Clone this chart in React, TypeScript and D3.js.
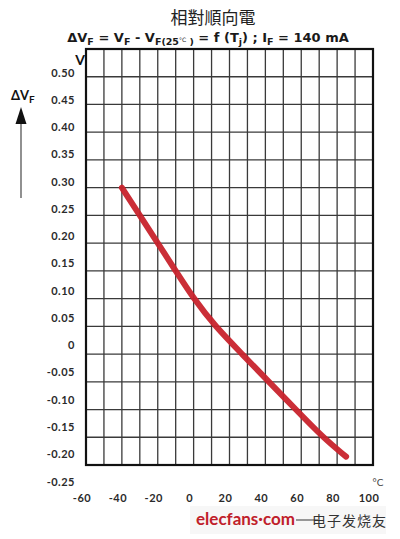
import * as d3 from 'd3';

// temperature (°C) and ΔVF (V)
const tempC = [-40, -30, -20, -10, 0, 12, 27, 42, 57, 72, 85];
const deltaVF = [0.3, 0.25, 0.2, 0.15, 0.1, 0.05, 0, -0.05, -0.1, -0.15, -0.185];

const xTickLabels = [-60, -40, -20, 0, 20, 40, 60, 80, 100];
const yTickLabels = [0.5, 0.45, 0.4, 0.35, 0.3, 0.25, 0.2, 0.15, 0.1, 0.05, 0, -0.05, -0.1, -0.15, -0.2, -0.25];
const xGrid = [-60, -50, -40, -30, -20, -10, 0, 10, 20, 30, 40, 50, 60, 70, 80, 90, 100];
const yGrid = [0.55, 0.5, 0.45, 0.4, 0.35, 0.3, 0.25, 0.2, 0.15, 0.1, 0.05, 0, -0.05, -0.1, -0.15, -0.2];

const W = 400;
const H = 539;
const font = 'Lato, "Open Sans", sans-serif';
const wide = '"DejaVu Sans", Lato, sans-serif';

const fmtV = (v: number) => (v === 0 ? '0' : d3.format('.2f')(v).replace('\u2212', '-'));
const fmtT = (t: number) => d3.format('d')(t).replace('\u2212', '-');

export default function App() {
  const x = d3.scaleLinear().domain([-60, 100]).range([86, 373]);
  const y = d3.scaleLinear().domain([-0.2, 0.55]).range([465, 49]);
  // the printed labels drift a little from the grid in the original
  const xLab = d3.scaleLinear().domain([-60, 100]).range([82, 369]);
  const yLab = d3.scaleLinear().domain([-0.25, 0.5]).range([481, 72]);

  const pts = tempC.map((t, i) => [t, deltaVF[i]] as [number, number]);
  const line = d3
    .line<[number, number]>()
    .x((d) => x(d[0]))
    .y((d) => y(d[1]))
    .curve(d3.curveBasis);

  return (
    <svg width={W} height={H} style={{ position: 'absolute', left: 0, top: 0, background: '#fff' }}>
      <rect width={W} height={H} fill="#fff" />
      {/* titles */}
      <text x={213} y={24} textAnchor="middle" fontSize={17} fill="#222"
        fontFamily='"Noto Sans CJK TC", sans-serif'>相對順向電</text>
      <text x={208} y={42} textAnchor="middle" fontSize={13} fontWeight={700} fill="#1a1a1a"
        fontFamily={wide}>
        <tspan>ΔV</tspan>
        <tspan fontSize={9.5} dy={3}>F</tspan>
        <tspan dy={-3}> = V</tspan>
        <tspan fontSize={9.5} dy={3}>F</tspan>
        <tspan dy={-3}> - V</tspan>
        <tspan fontSize={9.5} dy={3}>F(25</tspan>
        <tspan fontSize={6} fontWeight={400} dy={-3}>°C</tspan>
        <tspan fontSize={9.5} dy={3}> )</tspan>
        <tspan dy={-3}> = f (T</tspan>
        <tspan fontSize={9.5} dy={3}>j</tspan>
        <tspan dy={-3}>) ; I</tspan>
        <tspan fontSize={9.5} dy={3}>F</tspan>
        <tspan dy={-3}> = 140 mA</tspan>
      </text>

      {/* grid */}
      <g stroke="#3a3a3a" strokeWidth={1.3}>
        {xGrid.map((t) => (
          <line key={'vx' + t} x1={x(t)} x2={x(t)} y1={y(0.55)} y2={y(-0.2)} />
        ))}
        {yGrid.map((v) => (
          <line key={'hy' + v} x1={x(-60)} x2={x(100)} y1={y(v)} y2={y(v)} />
        ))}
      </g>
      <rect x={x(-60)} y={y(0.55)} width={x(100) - x(-60)} height={y(-0.2) - y(0.55)}
        fill="none" stroke="#111" strokeWidth={2.2} />

      {/* curve */}
      <path d={line(pts) || ''} fill="none" stroke="#c8232c" strokeWidth={6}
        strokeLinecap="round" strokeLinejoin="round" opacity={0.95} />

      {/* y tick labels */}
      <g fontFamily={font} fontWeight={700} fontSize={11} fill="#2a2a2a" textAnchor="end">
        {yTickLabels.map((v) => (
          <text key={'yl' + v} x={75} y={yLab(v)} dominantBaseline="central" letterSpacing={0.5}>
            {fmtV(v)}
          </text>
        ))}
      </g>
      {/* x tick labels */}
      <g fontFamily={font} fontWeight={700} fontSize={11} fill="#2a2a2a" textAnchor="middle">
        {xTickLabels.map((t) => (
          <text key={'xl' + t} x={xLab(t)} y={497} dominantBaseline="central" letterSpacing={0.5}>
            {fmtT(t)}
          </text>
        ))}
      </g>

      {/* axis units */}
      <text x={80} y={65} textAnchor="middle" fontFamily={font} fontWeight={700} fontSize={14} fill="#111">V</text>
      <text x={378} y={486} textAnchor="middle" fontFamily={font} fontSize={10} fill="#444">°C</text>

      {/* ΔVF with upward arrow */}
      <text x={11} y={100} fontFamily={font} fontWeight={700} fontSize={13} fill="#111">
        <tspan>ΔV</tspan>
        <tspan fontSize={10} dy={3}>F</tspan>
      </text>
      <line x1={21} x2={21} y1={118} y2={198} stroke="#555" strokeWidth={1.3} />
      <path d="M21,107 L26.5,124 L15.5,124 Z" fill="#111" />

      {/* watermark */}
      <rect x={190} y={506} width={196} height={28} fill="#f7f7f7" />
      <line x1={296} x2={318} y1={520} y2={520} stroke="#777" strokeWidth={1.5} />
      <text x={196} y={525} fontFamily={font} fontWeight={700} fontSize={17} fill="#c0202a">elecfans·com</text>
      <text x={312} y={526} fontFamily='"Noto Sans CJK SC", sans-serif' fontSize={14} fill="#333"
        letterSpacing={1}>电子发烧友</text>
    </svg>
  );
}
